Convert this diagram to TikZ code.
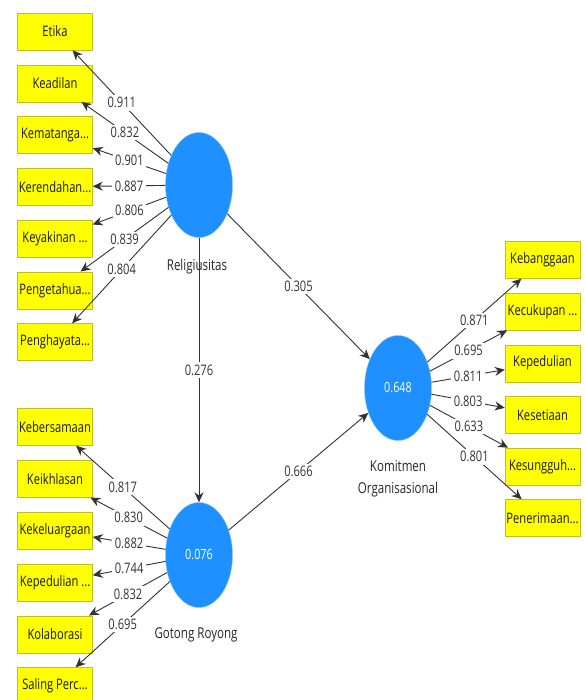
\documentclass[tikz,border=0pt]{standalone}
\usepackage{fontspec}
\setmainfont[FakeStretch=0.77]{Open Sans}
\usetikzlibrary{arrows.meta,shapes.geometric}

\definecolor{indyellow}{RGB}{255,255,0}
\definecolor{indborder}{RGB}{190,190,40}
\definecolor{latblue}{RGB}{30,144,255}
\definecolor{linkgray}{RGB}{50,50,50}

\begin{document}
\begin{tikzpicture}[x=1pt,y=-1pt,>={Stealth[length=10pt,width=9pt]},
    indicator/.style={draw=indborder,fill=indyellow,minimum width=75pt,minimum height=37pt,
      inner sep=1pt,font=\fontsize{14.5}{16}\selectfont,text=black!90},
    latent/.style={ellipse,fill=latblue,draw=latblue!55,minimum width=67pt,minimum height=105pt,
      inner sep=0pt,text=white,font=\fontsize{14}{16}\selectfont},
    latname/.style={font=\fontsize{15}{22}\selectfont,text=black!85,align=center},
    loading/.style={fill=white,inner sep=2.5pt,font=\fontsize{14.5}{16}\selectfont,text=black!80},
    link/.style={->,draw=linkgray,line width=0.9pt}]
    \useasboundingbox (0,0) rectangle (584,700);
    % latent variables
    \node[latent] (rel) at (199,185) {};
    \node[latent] (gr) at (199,555) {0.076};
    \node[latent] (ko) at (398,388) {0.648};
    \node[latname] (relname) at (197,267) {Religiusitas};
    \node[latname] (grname) at (196,635) {Gotong Royong};
    \node[latname] (koname) at (398,479) {Komitmen\\Organisasional};
    % indicators of Religiusitas
    \node[indicator] (etika) at (55,31.5) {Etika};
    \node[indicator] (keadilan) at (55,83.25) {Keadilan};
    \node[indicator] (kematangan) at (55,135) {Kematanga...};
    \node[indicator] (kerendahan) at (55,186.75) {Kerendahan...};
    \node[indicator] (keyakinan) at (55,238.5) {Keyakinan ...};
    \node[indicator] (pengetahuan) at (55,290.25) {Pengetahua...};
    \node[indicator] (penghayatan) at (55,342) {Penghayata...};
    % indicators of Gotong Royong
    \node[indicator] (kebersamaan) at (55,427) {Kebersamaan};
    \node[indicator] (keikhlasan) at (55,478.8) {Keikhlasan};
    \node[indicator] (kekeluargaan) at (55,530.6) {Kekeluargaan};
    \node[indicator] (kepedulianA) at (55,582.4) {Kepedulian ...};
    \node[indicator] (kolaborasi) at (55,634.2) {Kolaborasi};
    \node[indicator] (saling) at (55,686) {Saling Perc...};
    % indicators of Komitmen Organisasional
    \node[indicator] (kebanggaan) at (542.5,260) {Kebanggaan};
    \node[indicator] (kecukupan) at (542.5,311.6) {Kecukupan ...};
    \node[indicator] (kepedulianB) at (542.5,363.2) {Kepedulian};
    \node[indicator] (kesetiaan) at (542.5,414.8) {Kesetiaan};
    \node[indicator] (kesungguhan) at (542.5,466.4) {Kesungguh...};
    \node[indicator] (penerimaan) at (542.5,518) {Penerimaan...};
    % outer loadings
    \draw[link] (rel) -- node[loading] {0.911} (etika);
    \draw[link] (rel) -- node[loading] {0.832} (keadilan);
    \draw[link] (rel) -- node[loading] {0.901} (kematangan);
    \draw[link] (rel) -- node[loading] {0.887} (kerendahan);
    \draw[link] (rel) -- node[loading] {0.806} (keyakinan);
    \draw[link] (rel) -- node[loading] {0.839} (pengetahuan);
    \draw[link] (rel) -- node[loading] {0.804} (penghayatan);
    \draw[link] (gr) -- node[loading] {0.817} (kebersamaan);
    \draw[link] (gr) -- node[loading] {0.830} (keikhlasan);
    \draw[link] (gr) -- node[loading] {0.882} (kekeluargaan);
    \draw[link] (gr) -- node[loading] {0.744} (kepedulianA);
    \draw[link] (gr) -- node[loading] {0.832} (kolaborasi);
    \draw[link] (gr) -- node[loading] {0.695} (saling);
    \draw[link] (ko) -- node[loading] {0.871} (kebanggaan);
    \draw[link] (ko) -- node[loading] {0.695} (kecukupan);
    \draw[link] (ko) -- node[loading] {0.811} (kepedulianB);
    \draw[link] (ko) -- node[loading] {0.803} (kesetiaan);
    \draw[link] (ko) -- node[loading] {0.633} (kesungguhan);
    \draw[link] (ko) -- node[loading] {0.801} (penerimaan);
    % path coefficients
    \draw[link] (rel) -- node[loading] {0.276} (gr);
    \draw[link] (rel) -- node[loading] {0.305} (ko);
    \draw[link] (gr) -- node[loading] {0.666} (ko);
  \end{tikzpicture}
\end{document}
